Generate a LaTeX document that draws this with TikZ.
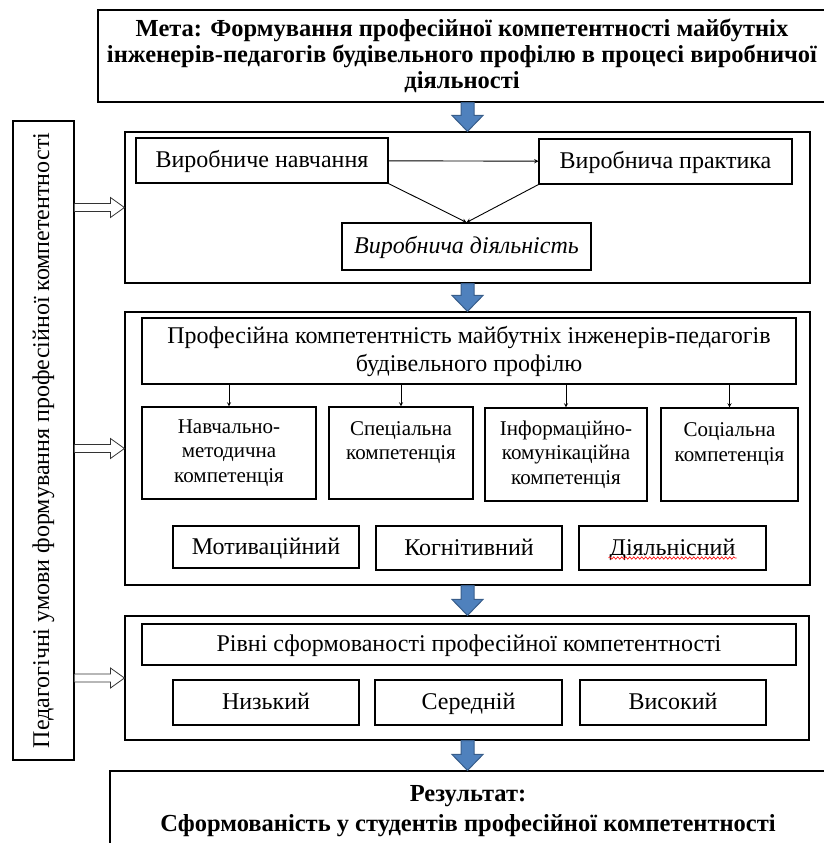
\documentclass[tikz,border=0pt]{standalone}
\usepackage{fontspec}
\setmainfont{Liberation Serif}
\usetikzlibrary{arrows.meta,calc,decorations.pathmorphing}
\definecolor{flowblue}{RGB}{79,129,189}
\definecolor{flowdark}{RGB}{56,93,138}

\begin{document}
\begin{tikzpicture}[x=1pt, y=-1pt, line width=1.1pt]
    \tikzstyle{block} = [rectangle, draw, align=center, inner sep=0pt, font=\fontsize{24}{28}\selectfont]
    \tikzstyle{single} = [block, text height=17pt, text depth=3pt]
    \tikzstyle{frame} = [rectangle, draw]
    \tikzstyle{comp} = [block, font=\fontsize{21}{24.5}\selectfont]
    \tikzstyle{title} = [block, font=\bfseries\fontsize{24.5}{26}\selectfont]
    \tikzstyle{flow} = [fill=flowblue, draw=flowdark, line width=1pt, line join=miter]
    \tikzstyle{hollow} = [draw=black!80, fill=white, line width=0.8pt]
    \tikzstyle{link} = [->, >=stealth, line width=0.9pt]
    \tikzstyle{spell} = [red, line width=0.6pt, decorate, decoration={snake, amplitude=1.2pt, segment length=4pt}]

    \useasboundingbox (0,0) rectangle (824,843);
    \clip (0,0) rectangle (824,843);

    % Мета
    \node[title, minimum width=728, minimum height=92] (goal) at (462,56) {Мета: Формування професійної компетентності майбутніх\\інженерів-педагогів будівельного профілю в процесі виробничої\\діяльності};
    % Педагогічні умови
    \node[block, minimum width=61, minimum height=639] (cond) at (43.5,440.5) {\rotatebox{90}{Педагогічні умови формування професійної компетентності}};

    % Блок 1
    \node[frame, minimum width=685, minimum height=151] (sec1) at (467.5,207.5) {};
    \node[single, minimum width=252, minimum height=45] (train) at (262,160.5) {Виробниче навчання};
    \node[single, minimum width=253, minimum height=45] (practice) at (665.5,161.5) {Виробнича практика};
    \node[single, minimum width=249, minimum height=47, font=\itshape\fontsize{24}{28}\selectfont] (activity) at (466.5,246.5) {Виробнича діяльність};

    % Блок 2
    \node[frame, minimum width=685, minimum height=273] (sec2) at (467.5,448.5) {};
    \node[block, minimum width=654, minimum height=66] (head) at (469,351) {Професійна компетентність майбутніх інженерів-педагогів\\будівельного профілю};
    \node[comp, minimum width=174, minimum height=92] (c1) at (229,453) {Навчально-\\методична\\компетенція};
    \node[comp, minimum width=144, minimum height=92] (c2) at (401,453) {Спеціальна\\компетенція\\\phantom{к}};
    \node[comp, minimum width=162, minimum height=93] (c3) at (566,454.5) {Інформаційно-\\комунікаційна\\компетенція};
    \node[comp, minimum width=137, minimum height=93] (c4) at (729.5,454.5) {Соціальна\\компетенція\\\phantom{к}};
    \node[single, minimum width=186, minimum height=42] (mot) at (266,547) {Мотиваційний};
    \node[single, minimum width=186, minimum height=44] (cog) at (469,548) {Когнітивний};
    \node[single, minimum width=187, minimum height=44] (act) at (672.5,548) {Діяльнісний};

    % Блок 3
    \node[frame, minimum width=684, minimum height=124] (sec3) at (467,678) {};
    \node[single, minimum width=654, minimum height=41] (levels) at (469,644.5) {Рівні сформованості професійної компетентності};
    \node[single, minimum width=186, minimum height=45] (low) at (266,702.5) {Низький};
    \node[single, minimum width=187, minimum height=45] (mid) at (468.5,702.5) {Середній};
    \node[single, minimum width=186, minimum height=45] (high) at (673,702.5) {Високий};

    % Результат
    \node[title, font=\bfseries\fontsize{24.5}{30}\selectfont, minimum width=716, minimum height=104] (result) at (468,823) {Результат:\\Сформованість у студентів професійної компетентності\\\phantom{Р}};

    % Зв'язки
    \foreach \a/\b in {goal/sec1, sec1/sec2, sec2/sec3, sec3/result}
        \filldraw[flow] ($(\a.south -| sec1.north)+(-6.5,0)$) -- ($(\b.north -| sec1.north)+(-6.5,-16)$) -- ($(\b.north -| sec1.north)+(-15.5,-16)$) -- (\b.north -| sec1.north) -- ($(\b.north -| sec1.north)+(15.5,-16)$) -- ($(\b.north -| sec1.north)+(6.5,-16)$) -- ($(\a.south -| sec1.north)+(6.5,0)$) -- cycle;
    \foreach \s in {sec1, sec2, sec3}
        \filldraw[hollow] ($(cond.east |- \s.west)+(0,-4)$) -- ($(\s.west)+(-14,-4)$) -- ($(\s.west)+(-14,-10)$) -- (\s.west) -- ($(\s.west)+(-14,10)$) -- ($(\s.west)+(-14,4)$) -- ($(cond.east |- \s.west)+(0,4)$);
    \draw[link] (train) -- (practice);
    \draw[link] (train.south east) -- (activity.north);
    \draw[link] (practice.south west) -- (activity.north);
    \foreach \c in {c1, c2, c3, c4}
        \draw[link] (\c.north |- head.south) -- (\c.north);
    \draw[spell] ($(act.center)+(-64,10)$) -- ++(128,0);
\end{tikzpicture}
\end{document}
